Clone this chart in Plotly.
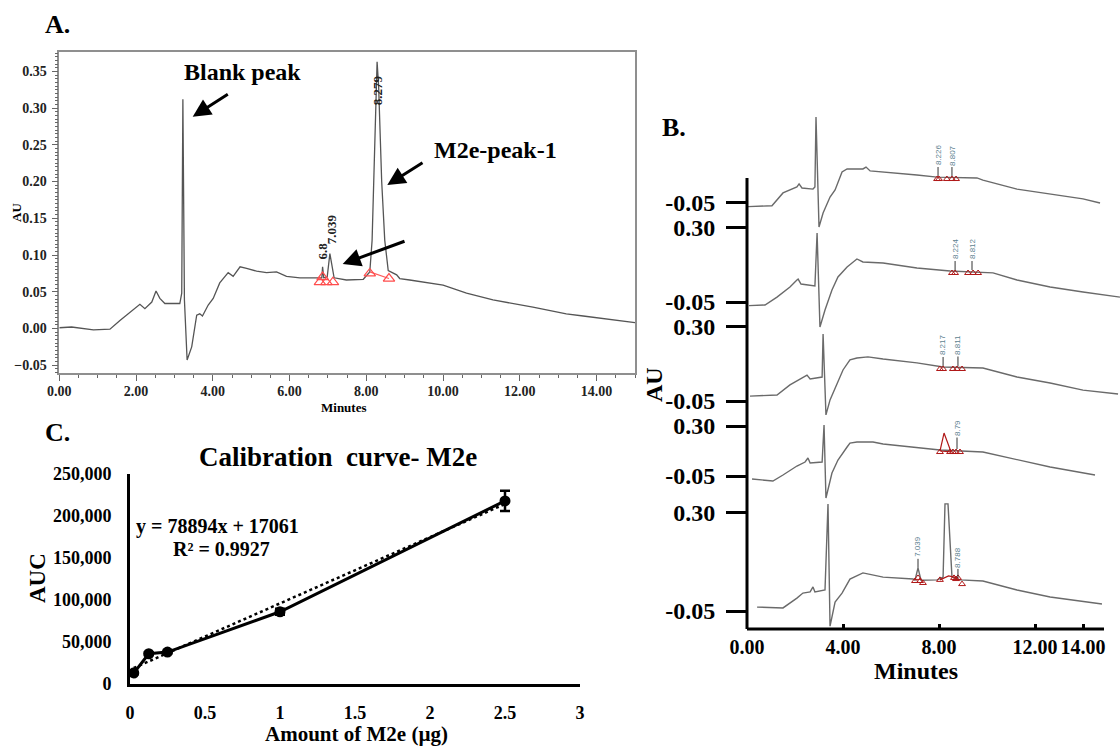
import plotly.graph_objects as go

FONT = "Liberation Serif"

# ---------------- Panel A: chromatogram (time in min, absorbance in AU) ----------------
A_TIME = [0, 0.32, 0.89, 1.32, 1.58, 1.80, 2.10, 2.23, 2.41, 2.52, 2.62, 2.75, 3.14, 3.19, 3.22, 3.26,
          3.33, 3.45, 3.58, 3.66, 3.73, 3.88, 4.01, 4.18, 4.40, 4.53, 4.64, 4.71, 4.88, 5.14, 5.40, 5.66,
          5.92, 6.27, 6.70, 6.84, 6.86, 6.89, 6.98, 7.05, 7.16, 7.48, 7.92, 8.09, 8.15, 8.20, 8.25, 8.28,
          8.32, 8.40, 8.48, 8.57, 8.79, 8.87, 9.13, 10.0, 10.61, 11.30, 12.34, 13.21, 13.65, 15.0]
A_AU = [0.001, 0.002, -0.002, -0.001, 0.011, 0.020, 0.033, 0.027, 0.036, 0.051, 0.041, 0.034, 0.034, 0.048,
        0.312, 0.039, -0.043, -0.025, 0.018, 0.020, 0.017, 0.032, 0.041, 0.062, 0.076, 0.071, 0.078, 0.084,
        0.082, 0.078, 0.076, 0.077, 0.071, 0.069, 0.069, 0.069, 0.084, 0.069, 0.070, 0.102, 0.069, 0.066,
        0.067, 0.077, 0.12, 0.22, 0.33, 0.363, 0.33, 0.20, 0.12, 0.079, 0.073, 0.068, 0.066, 0.059, 0.048,
        0.039, 0.029, 0.020, 0.017, 0.008]
A_MARK_T = [6.79, 6.86, 6.96, 7.13, 8.09, 8.59]
A_MARK_AU = [0.063, 0.070, 0.063, 0.063, 0.075, 0.068]
A_BASE_T = [8.09, 8.59]
A_BASE_AU = [0.077, 0.068]
A_PEAK_TEXT = ["8.279", "7.039", "6.8"]
A_PEAK_T = [8.30, 7.08, 6.87]
A_PEAK_AU = [0.324, 0.135, 0.106]

# ---------------- Panel B: five stacked chromatograms (each in its own AU band) ----------------
B1_T = [0.04, 1.04, 1.5, 2.08, 2.17, 2.29, 2.75, 2.83, 2.875, 3.0, 3.17, 3.46, 3.67, 3.96, 4.17, 4.83, 4.96,
        5.13, 7.08, 7.92, 9.58, 9.83, 11.25, 12.63, 14.0, 14.71]
B1_AU = [-0.067, -0.063, -0.003, 0.025, 0.039, 0.020, 0.015, 0.025, 0.352, -0.162, -0.097, -0.022, 0.011,
         0.095, 0.109, 0.109, 0.118, 0.10, 0.081, 0.071, 0.067, 0.057, 0.015, -0.008, -0.031, -0.05]
B2_T = [0.08, 0.75, 1.25, 1.79, 2.08, 2.13, 2.25, 2.83, 2.92, 3.04, 3.25, 3.54, 3.79, 4.17, 4.58, 4.83, 5.67,
        7.08, 8.46, 10.25, 11.25, 12.63, 14.0, 15.54]
B2_AU = [-0.067, -0.064, -0.027, 0.020, 0.053, 0.057, 0.034, 0.025, 0.272, -0.167, -0.087, 0.006, 0.067,
         0.114, 0.151, 0.137, 0.132, 0.109, 0.095, 0.086, 0.053, 0.020, -0.003, -0.027]
B3_T = [0.125, 1.25, 1.79, 2.5, 2.63, 3.13, 3.17, 3.29, 3.46, 3.75, 4.0, 4.29, 4.58, 5.04, 5.67, 7.08, 8.17,
        9.83, 11.25, 12.63, 14.0, 15.46]
B3_AU = [-0.027, -0.022, 0.025, 0.071, 0.053, 0.062, 0.263, -0.115, -0.045, 0.034, 0.095, 0.142, 0.151,
         0.156, 0.146, 0.128, 0.109, 0.104, 0.062, 0.034, 0.001, -0.017]
B4_T = [0.21, 1.08, 1.5, 2.08, 2.42, 2.54, 2.63, 3.13, 3.21, 3.29, 3.54, 3.79, 4.17, 4.29, 4.58, 5.25, 5.67,
        7.08, 8.04, 9.83, 11.25, 12.63, 14.5]
B4_AU = [-0.071, -0.085, -0.043, 0.020, 0.048, 0.076, 0.041, 0.048, 0.307, -0.204, -0.029, 0.062, 0.153,
         0.181, 0.188, 0.188, 0.174, 0.146, 0.132, 0.118, 0.062, 0.013, -0.043]
B5_T = [0.42, 1.5, 2.08, 2.33, 2.63, 2.75, 2.83, 3.25, 3.375, 3.46, 3.67, 3.96, 4.29, 4.71, 4.83, 5.67, 6.92,
        7.0, 7.125, 7.25, 7.92, 8.17, 8.25, 8.375, 8.54, 8.875, 9.83, 11.25, 12.63, 14.79]
B5_AU = [-0.036, -0.039, -0.004, 0.014, 0.018, 0.036, 0.018, 0.025, 0.332, -0.104, -0.018, 0.014, 0.064,
         0.079, 0.086, 0.071, 0.064, 0.060, 0.104, 0.060, 0.061, 0.071, 0.332, 0.332, 0.071, 0.061, 0.057,
         0.025, 0.0, -0.025]
B_TRACES = [(B1_T, B1_AU), (B2_T, B2_AU), (B3_T, B3_AU), (B4_T, B4_AU), (B5_T, B5_AU)]

B_MARK_T = [[7.92, 8.0, 8.33, 8.54, 8.71],
            [8.54, 8.67, 9.21, 9.42, 9.63],
            [8.04, 8.17, 8.58, 8.75, 8.96],
            [8.04, 8.46, 8.58, 8.71, 8.875],
            [7.0, 7.125, 7.21, 7.33, 8.04, 8.625, 8.71, 8.79, 8.96]]
B_MARK_AU = [[0.062, 0.062, 0.062, 0.062, 0.062],
             [0.0855, 0.0855, 0.0855, 0.0855, 0.0855],
             [0.0995, 0.0995, 0.0995, 0.0995, 0.0995],
             [0.118, 0.118, 0.118, 0.118, 0.118],
             [0.057, 0.068, 0.057, 0.050, 0.061, 0.068, 0.064, 0.068, 0.046]]
B4_PEAK_T = [8.04, 8.21, 8.5, 8.04]
B4_PEAK_AU = [0.125, 0.251, 0.12, 0.125]
B5_BASE_T = [8.04, 8.4, 8.79]
B5_BASE_AU = [0.061, 0.075, 0.068]

B_LABEL_TRACE = [0, 0, 1, 1, 2, 2, 3, 4, 4]
B_LABEL_TEXT = ["8.226", "8.807", "8.224", "8.812", "8.217", "8.811", "8.79", "7.039", "8.788"]
B_LABEL_T = [7.96, 8.54, 8.67, 9.375, 8.17, 8.79, 8.75, 7.125, 8.79]
B_LABEL_AU = [0.076, 0.076, 0.0995, 0.0995, 0.1136, 0.1136, 0.139, 0.104, 0.068]

B_TICK_AU = [-0.05, 0.30]
B_TICK_TEXT = ["-0.05", "0.30"]
B_XTICKS = [0, 4, 8, 12, 14]
B_XTICK_TEXT = ["0.00", "4.00", "8.00", "12.00", "14.00"]

# stacking transform for panel B: display = offset + gain * AU
B_OFFSETS = [2.0407, 1.5780, 1.1154, 0.7483, 0.1496]
B_GAINS = [1.0, 1.0, 1.0, 0.667, 1.31]

# ---------------- Panel C: calibration curve ----------------
C_AMOUNT = [0.025, 0.125, 0.25, 1.0, 2.5]
C_AUC = [13000, 36000, 38000, 86000, 218000]
C_ERR = [1500, 1500, 1500, 3500, 12000]
C_SLOPE = 78894
C_INTERCEPT = 17061
C_XTICKS = [0, 0.5, 1, 1.5, 2, 2.5, 3]
C_XTICK_TEXT = ["0", "0.5", "1", "1.5", "2", "2.5", "3"]
C_YTICKS = [0, 50000, 100000, 150000, 200000, 250000]

W, H = 1120, 748


def px(x):
    return x / W


def py(y):
    return 1 - y / H


def bdisp(k, v):
    return B_OFFSETS[k] + B_GAINS[k] * v


fig = go.Figure()

# ---- A ----
fig.add_trace(go.Scatter(x=A_TIME, y=A_AU, mode="lines", line=dict(color="#555555", width=1.3),
                         xaxis="x", yaxis="y", hoverinfo="skip"))
fig.add_trace(go.Scatter(x=A_BASE_T, y=A_BASE_AU, mode="lines", line=dict(color="#ff5a5a", width=1.2),
                         xaxis="x", yaxis="y", hoverinfo="skip"))
fig.add_trace(go.Scatter(x=A_MARK_T, y=A_MARK_AU, mode="markers",
                         marker=dict(symbol="triangle-up-open", size=10, color="#ff4d4d", line=dict(width=1.2)),
                         xaxis="x", yaxis="y", hoverinfo="skip"))

# ---- B ----
for k, (t, v) in enumerate(B_TRACES):
    fig.add_trace(go.Scatter(x=t, y=[bdisp(k, a) for a in v], mode="lines",
                             line=dict(color="#6a6a6a", width=1.4), xaxis="x2", yaxis="y2", hoverinfo="skip"))
fig.add_trace(go.Scatter(x=B4_PEAK_T, y=[bdisp(3, a) for a in B4_PEAK_AU], mode="lines",
                         line=dict(color="#b01818", width=1.2), xaxis="x2", yaxis="y2", hoverinfo="skip"))
fig.add_trace(go.Scatter(x=B5_BASE_T, y=[bdisp(4, a) for a in B5_BASE_AU], mode="lines",
                         line=dict(color="#b01818", width=1.2), xaxis="x2", yaxis="y2", hoverinfo="skip"))
for k in range(5):
    fig.add_trace(go.Scatter(x=B_MARK_T[k], y=[bdisp(k, a) for a in B_MARK_AU[k]], mode="markers",
                             marker=dict(symbol="triangle-up-open", size=6, color="#b01818", line=dict(width=1)),
                             xaxis="x2", yaxis="y2", hoverinfo="skip"))

# ---- C ----
trend_x = [C_AMOUNT[0], C_AMOUNT[-1]]
trend_y = [C_SLOPE * x + C_INTERCEPT for x in trend_x]
fig.add_trace(go.Scatter(x=trend_x, y=trend_y, mode="lines", line=dict(color="black", width=2.5, dash="dot"),
                         xaxis="x3", yaxis="y3", hoverinfo="skip"))
fig.add_trace(go.Scatter(x=C_AMOUNT, y=C_AUC, mode="lines+markers", line=dict(color="black", width=3),
                         marker=dict(size=11, color="black"),
                         error_y=dict(type="data", array=C_ERR, color="black", thickness=2.5, width=5),
                         xaxis="x3", yaxis="y3", hoverinfo="skip"))

# ---- B tick positions from the stacking transform ----
b_tickvals, b_ticktext = [], []
for k in range(5):
    for val, txt in zip(B_TICK_AU, B_TICK_TEXT):
        if k == 0 and val > 0:
            continue
        b_tickvals.append(bdisp(k, val))
        b_ticktext.append(txt)


def tf(size, color="black"):
    return dict(family=FONT, size=size, color=color, weight="bold")


A_X0, A_X1, A_Y0, A_Y1 = 59.3, 635, 52.3, 373.3
B_X0, B_X1, B_Y0, B_Y1 = 747, 1120, 100, 629
C_X0, C_X1, C_Y0, C_Y1 = 130, 580, 474, 684
B_PX_PER_UNIT = 214.0
B_PX_PER_MIN = 24.0

fig.update_layout(
    width=W, height=H, margin=dict(l=0, r=0, t=0, b=0, autoexpand=False),
    paper_bgcolor="white", plot_bgcolor="white", showlegend=False,
    xaxis=dict(domain=[px(A_X0), px(A_X1)], range=[0, 15], anchor="y", showline=True, mirror=True,
               linecolor="#8f8f8f", linewidth=1.5, ticks="outside", ticklen=6, tickcolor="#666",
               tick0=0, dtick=2, tickformat=".2f", tickangle=0, tickfont=tf(14, "#222"),
               showgrid=False, zeroline=False, automargin=False, ticklabelstandoff=-2,
               minor=dict(dtick=0.5, ticklen=3, ticks="outside", tickcolor="#666")),
    yaxis=dict(domain=[py(A_Y1), py(A_Y0)], range=[-0.061, 0.376], anchor="x", showline=True, mirror=True,
               linecolor="#8f8f8f", linewidth=1.5, ticks="outside", ticklen=6, tickcolor="#666",
               tick0=0, dtick=0.05, tickformat=".2f", tickfont=tf(14, "#222"),
               showgrid=False, zeroline=False, automargin=False, ticklabelstandoff=2,
               minor=dict(dtick=0.005, ticklen=3, ticks="outside", tickcolor="#666")),
    xaxis2=dict(domain=[px(B_X0), px(B_X1)], range=[0, (B_X1 - B_X0) / B_PX_PER_MIN], anchor="y2",
                showline=False, ticks="inside", ticklen=5, tickwidth=3, tickcolor="black",
                tickvals=B_XTICKS, ticktext=B_XTICK_TEXT, tickangle=0, tickfont=tf(20),
                showgrid=False, zeroline=False, ticklabelstandoff=4, automargin=False),
    yaxis2=dict(domain=[py(B_Y1), py(B_Y0)], range=[0, (B_Y1 - B_Y0) / B_PX_PER_UNIT], anchor="x2",
                showline=False, ticks="outside", ticklen=20, tickwidth=3, tickcolor="black",
                tickvals=b_tickvals, ticktext=b_ticktext, tickfont=tf(24),
                showgrid=False, zeroline=False, ticklabelstandoff=6, automargin=False),
    xaxis3=dict(domain=[px(C_X0), px(C_X1)], range=[0, 3], anchor="y3", showline=True, linewidth=3,
                linecolor="black", ticks="", tickvals=C_XTICKS, ticktext=C_XTICK_TEXT, tickangle=0,
                tickfont=tf(18), showgrid=False, zeroline=False, ticklabelstandoff=10, automargin=False),
    yaxis3=dict(domain=[py(C_Y1), py(C_Y0)], range=[0, 250000], anchor="x3", showline=True, linewidth=3,
                linecolor="black", ticks="", tickvals=C_YTICKS, tickformat=",d", tickfont=tf(18),
                showgrid=False, zeroline=False, ticklabelstandoff=12, automargin=False),
)

# axis lines for panel B (partial spines)
spine_top = (B_Y1 - 178) / (B_Y1 - B_Y0)
xline_end = (1104 - B_X0) / (B_X1 - B_X0)
fig.add_shape(type="line", xref="x2 domain", yref="y2 domain", x0=0, x1=0, y0=0, y1=spine_top,
              line=dict(color="black", width=3))
fig.add_shape(type="line", xref="x2 domain", yref="y2 domain", x0=0, x1=xline_end, y0=0, y1=0,
              line=dict(color="black", width=3))

ann = []


def text(xp, yp, s, size, angle=0, xanchor="center"):
    ann.append(dict(x=px(xp), y=py(yp), xref="paper", yref="paper", text=s, showarrow=False,
                    textangle=angle, xanchor=xanchor, yanchor="middle", font=tf(size)))


text(57, 24, "A.", 26)
text(674, 127, "B.", 26)
text(57, 432, "C.", 26)
text(242, 72, "Blank peak", 24)
text(495, 150, "M2e-peak-1", 24)
text(17, 213, "AU", 13, -90)
text(344, 408, "Minutes", 13)
text(654, 385, "AU", 24, -90)
text(916, 671, "Minutes", 24)
text(338, 457, "Calibration  curve- M2e", 27)
text(37, 578, "AUC", 23, -90)
text(356, 734, "Amount of M2e (µg)", 21)
text(134, 526, "y = 78894x + 17061", 20, xanchor="left")
text(221, 549, "R² = 0.9927", 20)

# arrows in panel A (tip position, tail offset in px)
for tip, tail in [((192.7, 116.7), (229.3, 93.3)), ((387.3, 185), (424, 161.7)), ((342.7, 264), (406, 240.7))]:
    ann.append(dict(x=px(tip[0]), y=py(tip[1]), xref="paper", yref="paper", text="", showarrow=True,
                    ax=tail[0] - tip[0], ay=tail[1] - tip[1], arrowhead=2, arrowsize=1.2, arrowwidth=3,
                    arrowcolor="black"))

# peak labels A
for s, t, v in zip(A_PEAK_TEXT, A_PEAK_T, A_PEAK_AU):
    ann.append(dict(x=t, y=v, xref="x", yref="y", text=s, showarrow=False, textangle=-90,
                    font=tf(13, "#222")))

# peak labels B
for k, s, t, v in zip(B_LABEL_TRACE, B_LABEL_TEXT, B_LABEL_T, B_LABEL_AU):
    ann.append(dict(x=t, y=bdisp(k, v), xref="x2", yref="y2", text=s, showarrow=True, arrowhead=0,
                    arrowwidth=1, arrowcolor="#333", ax=0, ay=-21, textangle=-90,
                    font=dict(family="Liberation Sans", size=8, color="#5d7f8f")))

fig.update_layout(annotations=ann)
fig.write_html("out.html")
